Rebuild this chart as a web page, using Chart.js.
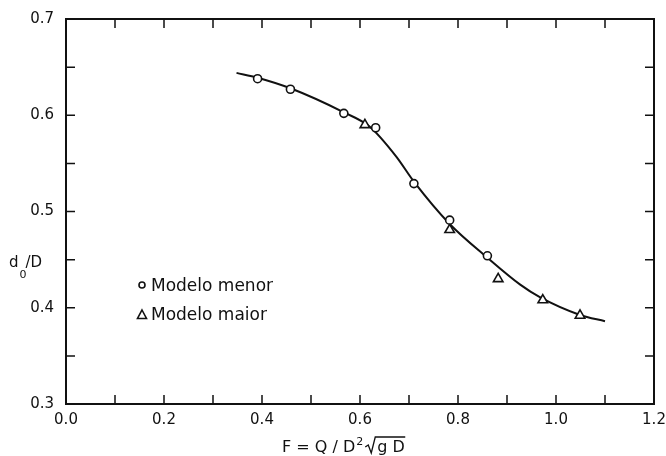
<!DOCTYPE html>
<html>
<head>
<meta charset="utf-8">
<script src="https://cdn.jsdelivr.net/npm/chart.js@4"></script>
<style>
  html, body { margin: 0; padding: 0; background: #fff; }
  #wrap { width: 666px; height: 456px; }
</style>
</head>
<body>
<div id="wrap"><canvas id="myChart"></canvas></div>
<script>
// values
var menorX = [0.391, 0.458, 0.567, 0.632, 0.710, 0.783, 0.860];
var menorY = [0.638, 0.627, 0.602, 0.587, 0.529, 0.491, 0.454];
var maiorX = [0.610, 0.783, 0.882, 0.973, 1.049];
var maiorY = [0.590, 0.481, 0.430, 0.408, 0.392];
var curveX = [0.348, 0.391, 0.458, 0.567, 0.620, 0.674, 0.710, 0.783, 0.860, 0.927, 0.967, 1.049, 1.100];
var curveY = [0.644, 0.639, 0.628, 0.603, 0.588, 0.557, 0.531, 0.487, 0.452, 0.424, 0.411, 0.3925, 0.386];
var legendLabels = ['Modelo menor', 'Modelo maior'];
var xTitle = 'F = Q / D';
var yTitle = ['d', '0', '/D'];

function pts(xs, ys) {
  return xs.map(function (x, i) { return { x: x, y: ys[i] }; });
}

var INK = '#111';
var FONT = '"DejaVu Sans", sans-serif';

// box, inward ticks, legend and axis titles
var figurePlugin = {
  id: 'figure',
  afterDraw: function (chart) {
    var ctx = chart.ctx, a = chart.chartArea;
    var sx = chart.scales.x, sy = chart.scales.y;
    ctx.save();
    ctx.strokeStyle = INK;
    ctx.lineWidth = 2;
    ctx.strokeRect(a.left, a.top, a.right - a.left, a.bottom - a.top);

    ctx.lineWidth = 1.5;
    ctx.beginPath();
    sx.ticks.forEach(function (t) {
      var px = sx.getPixelForValue(t.value);
      ctx.moveTo(px, a.bottom); ctx.lineTo(px, a.bottom - 9);
      ctx.moveTo(px, a.top); ctx.lineTo(px, a.top + 9);
    });
    sy.ticks.forEach(function (t) {
      var py = sy.getPixelForValue(t.value);
      ctx.moveTo(a.left, py); ctx.lineTo(a.left + 9, py);
      ctx.moveTo(a.right, py); ctx.lineTo(a.right - 9, py);
    });
    ctx.stroke();

    // legend
    ctx.fillStyle = INK;
    ctx.font = '17px ' + FONT;
    ctx.textBaseline = 'alphabetic';
    ctx.lineWidth = 1.6;
    ctx.beginPath();
    ctx.arc(142, 285, 3, 0, Math.PI * 2);
    ctx.stroke();
    ctx.fillText(legendLabels[0], 151, 291);
    ctx.beginPath();
    ctx.moveTo(142, 310); ctx.lineTo(146.5, 318.5); ctx.lineTo(137.5, 318.5); ctx.closePath();
    ctx.stroke();
    ctx.fillText(legendLabels[1], 151, 320);

    // y title d0/D
    ctx.font = '15px ' + FONT;
    ctx.fillText(yTitle[0], 9, 267);
    var w = ctx.measureText(yTitle[0]).width;
    var xs = 9 + w + 1;
    ctx.font = '11px ' + FONT;
    ctx.fillText(yTitle[1], xs, 278);
    var w2 = ctx.measureText(yTitle[1]).width;
    ctx.font = '15px ' + FONT;
    ctx.fillText(yTitle[2], xs + w2 - 1, 267);

    // x title F = Q / D^2 sqrt(gD)
    var x0 = 282, base = 452;
    ctx.font = '16px ' + FONT;
    ctx.fillText(xTitle, x0, base);
    x0 += ctx.measureText(xTitle).width + 1;
    ctx.font = '11px ' + FONT;
    ctx.fillText('2', x0, base - 7);
    x0 += ctx.measureText('2').width + 2;
    ctx.lineWidth = 1.3;
    ctx.beginPath();
    ctx.moveTo(x0, base - 5);
    ctx.lineTo(x0 + 3, base - 7);
    ctx.lineTo(x0 + 6, base + 1);
    ctx.lineTo(x0 + 10, base - 15);
    ctx.lineTo(x0 + 40, base - 15);
    ctx.stroke();
    ctx.font = '16px ' + FONT;
    ctx.fillText('g D', x0 + 12, base);
    ctx.restore();
  }
};

var ctx = document.getElementById('myChart').getContext('2d');
var myChart = new Chart(ctx, {
  type: 'scatter',
  data: {
    datasets: [{
      label: legendLabels[0],
      data: pts(menorX, menorY),
      pointStyle: 'circle',
      pointRadius: 4,
      pointBackgroundColor: '#fff',
      pointBorderColor: INK,
      pointBorderWidth: 1.6,
      order: 0
    }, {
      label: legendLabels[1],
      data: pts(maiorX, maiorY),
      pointStyle: 'triangle',
      pointRadius: 5.5,
      pointBackgroundColor: '#fff',
      pointBorderColor: INK,
      pointBorderWidth: 1.6,
      order: 0
    }, {
      label: 'curve',
      data: pts(curveX, curveY),
      showLine: true,
      borderColor: INK,
      borderWidth: 2,
      pointRadius: 0,
      cubicInterpolationMode: 'monotone',
      fill: false,
      order: 1
    }]
  },
  options: {
    responsive: true,
    maintainAspectRatio: false,
    animation: false,
    layout: { padding: { top: 19, right: 12, left: 0, bottom: 0 } },
    plugins: { legend: { display: false }, tooltip: { enabled: false } },
    scales: {
      x: {
        type: 'linear',
        min: 0, max: 1.2,
        grid: { display: false, drawTicks: false },
        border: { display: false },
        ticks: {
          stepSize: 0.1,
          padding: 7,
          color: INK,
          font: { family: FONT, size: 15 },
          maxRotation: 0,
          autoSkip: false,
          callback: function (v) {
            return Math.round(v * 10) % 2 === 0 ? v.toFixed(1) : '';
          }
        },
        afterFit: function (s) { s.height = 52; s.paddingLeft = 0; s.paddingRight = 0; }
      },
      y: {
        min: 0.3, max: 0.7,
        grid: { display: false, drawTicks: false },
        border: { display: false },
        ticks: {
          stepSize: 0.05,
          padding: 12,
          color: INK,
          font: { family: FONT, size: 15 },
          autoSkip: false,
          callback: function (v) {
            return Math.round(v * 100) % 10 === 0 ? v.toFixed(1) : '';
          }
        },
        afterFit: function (s) { s.width = 66; s.paddingTop = 0; s.paddingBottom = 0; }
      }
    }
  },
  plugins: [figurePlugin]
});
</script>
</body>
</html>
